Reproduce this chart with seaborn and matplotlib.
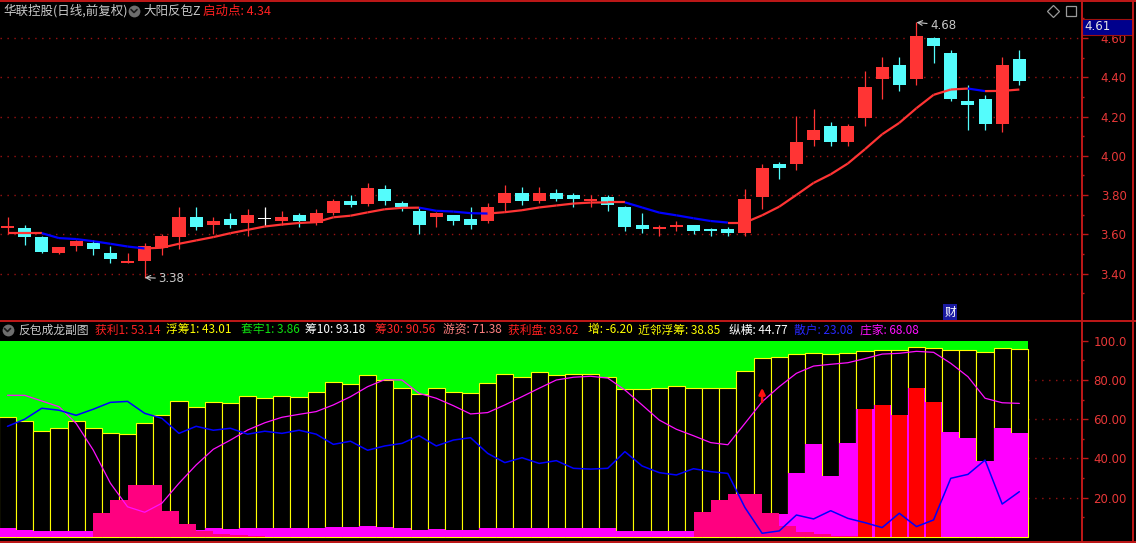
import numpy as np
import matplotlib
matplotlib.use('Agg')
import matplotlib.pyplot as plt
import seaborn as sns
from matplotlib.collections import LineCollection
from matplotlib.lines import Line2D
from matplotlib.patches import Rectangle

# ---------------- data ----------------
opens = [3.631, 3.630, 3.585, 3.503, 3.543, 3.554, 3.503, 3.452, 3.462, 3.528,
         3.584, 3.690, 3.650, 3.680, 3.660, 3.680, 3.670, 3.700, 3.660, 3.711,
         3.771, 3.753, 3.832, 3.761, 3.720, 3.689, 3.699, 3.679, 3.668, 3.761,
         3.812, 3.771, 3.812, 3.802, 3.771, 3.791, 3.740, 3.648, 3.627, 3.638,
         3.648, 3.627, 3.627, 3.607, 3.792, 3.959, 3.959, 4.081, 4.153, 4.071,
         4.194, 4.393, 4.464, 4.393, 4.602, 4.525, 4.280, 4.290, 4.163, 4.495]
highs = [3.690, 3.650, 3.590, 3.535, 3.569, 3.569, 3.543, 3.503, 3.554, 3.600,
         3.741, 3.741, 3.690, 3.711, 3.731, 3.741, 3.721, 3.711, 3.731, 3.781,
         3.802, 3.860, 3.853, 3.771, 3.740, 3.712, 3.700, 3.740, 3.761, 3.853,
         3.843, 3.843, 3.832, 3.812, 3.802, 3.800, 3.745, 3.709, 3.648, 3.668,
         3.650, 3.630, 3.638, 3.832, 3.959, 3.969, 4.204, 4.239, 4.173, 4.163,
         4.433, 4.505, 4.505, 4.680, 4.605, 4.540, 4.362, 4.311, 4.505, 4.540]
lows = [3.602, 3.545, 3.505, 3.500, 3.513, 3.493, 3.452, 3.452, 3.380, 3.493,
        3.523, 3.620, 3.604, 3.630, 3.594, 3.645, 3.650, 3.640, 3.650, 3.700,
        3.741, 3.745, 3.750, 3.720, 3.602, 3.638, 3.648, 3.627, 3.658, 3.720,
        3.750, 3.761, 3.771, 3.740, 3.740, 3.720, 3.617, 3.607, 3.591, 3.617,
        3.602, 3.591, 3.591, 3.591, 3.731, 3.884, 3.928, 4.051, 4.051, 4.051,
        4.153, 4.290, 4.331, 4.362, 4.474, 4.280, 4.132, 4.132, 4.122, 4.362]
closes = [3.641, 3.585, 3.511, 3.533, 3.564, 3.523, 3.473, 3.462, 3.543, 3.594,
          3.690, 3.640, 3.670, 3.650, 3.700, 3.680, 3.690, 3.670, 3.711, 3.771,
          3.751, 3.835, 3.771, 3.740, 3.648, 3.709, 3.668, 3.648, 3.740, 3.812,
          3.771, 3.812, 3.781, 3.781, 3.781, 3.750, 3.638, 3.627, 3.638, 3.648,
          3.617, 3.617, 3.607, 3.781, 3.938, 3.938, 4.071, 4.132, 4.071, 4.153,
          4.352, 4.454, 4.362, 4.612, 4.561, 4.290, 4.260, 4.163, 4.464, 4.382]
ma_line = [3.606, 3.606, 3.606, 3.581, 3.576, 3.565, 3.552, 3.538, 3.528, 3.532,
           3.552, 3.569, 3.586, 3.606, 3.623, 3.640, 3.650, 3.658, 3.662, 3.687,
           3.695, 3.712, 3.728, 3.735, 3.736, 3.720, 3.716, 3.708, 3.706, 3.713,
           3.723, 3.737, 3.747, 3.757, 3.762, 3.763, 3.763, 3.737, 3.711, 3.697,
           3.682, 3.668, 3.660, 3.660, 3.697, 3.741, 3.801, 3.862, 3.906, 3.961,
           4.034, 4.110, 4.168, 4.243, 4.311, 4.338, 4.343, 4.330, 4.331, 4.338]
price_ticks = [3.40, 3.60, 3.80, 4.00, 4.20, 4.40, 4.60]
low_label, high_label = 3.38, 4.68
low_idx, high_idx = 8, 53
last_price = "4.61"

chip_bars = [61.0, 58.9, 53.8, 55.4, 58.9, 55.4, 52.8, 52.4, 57.9, 62.0,
             69.1, 66.1, 68.6, 68.1, 71.7, 70.7, 71.7, 71.2, 73.7, 78.8,
             77.8, 82.4, 79.8, 76.1, 72.9, 76.1, 74.1, 73.2, 78.3, 83.2,
             81.4, 83.9, 82.4, 82.9, 82.9, 81.4, 75.2, 75.2, 75.8, 76.8,
             75.8, 75.8, 75.8, 84.4, 91.0, 91.6, 93.1, 93.6, 93.1, 93.6,
             94.6, 95.1, 95.1, 96.7, 96.2, 95.1, 95.1, 94.1, 96.2, 95.6]
zhuang_bars = [4.6, 3.6, 3.1, 3.1, 3.1, 3.1, 3.1, 3.1, 3.1, 3.1,
               3.1, 3.6, 4.6, 4.1, 4.6, 4.6, 4.6, 4.6, 4.6, 5.1,
               5.1, 5.6, 5.1, 4.6, 3.6, 4.1, 3.6, 3.6, 4.6, 4.6,
               4.6, 4.6, 4.6, 4.6, 4.6, 4.6, 3.1, 3.1, 3.1, 3.1,
               3.1, 3.1, 3.1, 3.1, 3.0, 11.5, 32.6, 47.4, 31.1, 47.9,
               65.2, 67.3, 62.2, 76.1, 68.9, 53.5, 50.4, 38.7, 55.5, 53.0]
youzi_steps = [0, 0, 0, 0, 0, 12.2, 18.9, 26.5, 26.5, 13.2,
               6.6, 3.1, 1.5, 1.0, 0.5, 0, 0, 0, 0, 0,
               0, 0, 0, 0, 0, 0, 0, 0, 0, 0,
               0, 0, 0, 0, 0, 0, 0, 0, 0, 0,
               12.7, 18.9, 21.9, 21.9, 12.2, 5.8, 2.7, 1.7, 0.5, 0.5,
               0, 0, 0, 0, 0, 0, 0, 0, 0, 0]
red_idx = [50, 51, 52, 53, 54]
red_bars = [65.2, 67.3, 62.2, 76.1, 68.9]
zhuang_line = [72.2, 72.2, 69.3, 66.4, 57.9, 44.3, 27.4, 15.4, 12.6, 17.2,
               27.4, 36.7, 44.7, 49.4, 54.5, 58.2, 61.0, 62.5, 63.9, 67.3,
               71.5, 76.6, 80.2, 80.0, 73.2, 70.7, 66.9, 62.7, 63.4, 67.3,
               71.5, 75.8, 80.0, 81.4, 81.9, 81.0, 74.9, 67.3, 59.6, 54.9,
               51.6, 48.1, 47.0, 57.9, 68.9, 76.6, 83.4, 87.1, 88.0, 88.8,
               90.9, 93.2, 93.6, 94.6, 94.1, 88.5, 81.7, 70.7, 68.4, 68.08]
sanhu_line = [56.4, 60.0, 65.6, 64.6, 62.0, 65.1, 68.6, 69.1, 63.0, 60.5,
              52.8, 56.4, 54.4, 55.4, 52.4, 53.9, 52.8, 54.4, 52.4, 47.2,
              48.8, 44.2, 46.4, 47.7, 51.6, 46.4, 49.4, 50.6, 42.6, 37.9,
              40.4, 37.5, 38.9, 35.0, 34.6, 35.0, 43.5, 36.2, 32.8, 31.6,
              34.8, 33.3, 32.4, 15.0, 1.9, 3.1, 11.2, 9.2, 13.4, 9.5,
              7.3, 4.8, 12.1, 5.3, 8.7, 29.9, 31.9, 39.2, 16.8, 23.08]
arrow_idx = 44
low_ticks = [20, 40, 60, 80, 100]
low_tick_labels = ['20.00', '40.00', '60.00', '80.00', '100.0']

sub_items = [("获利1", "53.14"), ("浮筹1", "43.01"), ("套牢1", "3.86"),
             ("筹10", "93.18"), ("筹30", "90.56"), ("游资", "71.38"),
             ("获利盘", "83.62"), ("增", "-6.20"), ("近邻浮筹", "38.85"),
             ("纵横", "44.77"), ("散户", f"{sanhu_line[-1]:.2f}"),
             ("庄家", f"{zhuang_line[-1]:.2f}")]
sub_colors = ['#FF2020', '#FFFF00', '#10E010', '#FFFFFF', '#FF2828', '#FF8080',
              '#FF2020', '#FFFF00', '#FFFF00', '#FFFFFF', '#2828FF', '#FF10FF']
sub_x = [95, 166, 241, 305, 375, 443, 508, 588, 638, 729, 794, 860]

# ---------------- style ----------------
W, H = 1136, 543
sns.set_theme(style='dark', rc={'axes.facecolor': 'black', 'figure.facecolor': 'black',
                                'axes.grid': False})
plt.rcParams['font.family'] = ['Noto Sans CJK SC', 'DejaVu Sans']
plt.rcParams['axes.unicode_minus'] = False

RED = '#FF3434'
CYAN = '#54FCFC'
AXRED = '#C01818'
LBLRED = '#E83838'
GRIDRED = '#9A1212'

fig = plt.figure(figsize=(W / 100, H / 100), dpi=100)
fig.patch.set_facecolor('black')


def fx(px):
    return px / W


def fy(py):
    return 1 - py / H


SP, X0, PR = 17.15, 7.5, 1081.5
xlim = (-X0 / SP, (PR - X0) / SP)
idx = np.arange(len(opens))
o, h, l, c = map(np.array, (opens, highs, lows, closes))

# ---------------- upper panel ----------------
ax1 = fig.add_axes([0, fy(320.5), fx(PR), (320.5 - 2) / H])
ax1.set_facecolor('black')
for p in price_ticks:
    ax1.axhline(p, color=GRIDRED, ls=(0, (1, 4)), lw=1.0, zorder=0)

col = np.where(c > o, RED, np.where(c < o, CYAN, '#FFFFFF'))
ax1.vlines(idx, l, h, colors=col, lw=0.9, zorder=2)
body = np.maximum(np.abs(c - o), 0.006)
bottom = np.where(np.abs(c - o) < 0.006, (o + c) / 2 - 0.003, np.minimum(o, c))
ax1.bar(idx, body, bottom=bottom, width=0.76, color=col, linewidth=0, zorder=3)

ma = np.array(ma_line)
segs = [[(i - 1, ma[i - 1]), (i, ma[i])] for i in range(1, len(ma))]
seg_cols = [RED if ma[i] >= ma[i - 1] else '#0000FF' for i in range(1, len(ma))]
ax1.add_collection(LineCollection(segs, colors=seg_cols, linewidths=1.6, zorder=4))

ax1.annotate(f"{low_label:.2f}", xy=(low_idx, low_label), xytext=(10, -1),
             textcoords='offset points', color='#C8C8C8', fontsize=8.5,
             family='DejaVu Sans', va='center', ha='left',
             arrowprops=dict(arrowstyle='->', color='#C8C8C8', lw=0.8,
                             shrinkA=0, shrinkB=0))
ax1.annotate(f"{high_label:.2f}", xy=(high_idx, high_label), xytext=(10, -2),
             textcoords='offset points', color='#C8C8C8', fontsize=8.5,
             family='DejaVu Sans', va='center', ha='left',
             arrowprops=dict(arrowstyle='->', color='#C8C8C8', lw=0.8,
                             shrinkA=0, shrinkB=0))

ax1.set_xlim(*xlim)
ax1.set_ylim(3.161, 4.784)
ax1.set_xticks([])
ax1.yaxis.tick_right()
ax1.set_yticks(price_ticks)
ax1.set_yticklabels([f"{p:.2f}" for p in price_ticks])
ax1.set_yticks([3.3, 3.5, 3.7, 3.9, 4.1, 4.3, 4.5, 4.7], minor=True)
ax1.tick_params(axis='y', which='major', direction='out', length=4, width=1,
                color=AXRED, labelcolor=LBLRED, labelsize=8.5, pad=28.5)
ax1.tick_params(axis='y', which='minor', direction='out', length=1.6, width=1,
                color=AXRED)
plt.setp(ax1.get_yticklabels(), ha='right', family='DejaVu Sans')
for s in ax1.spines.values():
    s.set_visible(False)

# ---------------- lower panel ----------------
ax2 = fig.add_axes([0, fy(541), fx(PR), (541 - 321) / H])
ax2.set_facecolor('black')
for v in low_ticks[:-1]:
    ax2.axhline(v, color=GRIDRED, ls=(0, (1, 4)), lw=1.0, zorder=0)
ax2.bar(idx, np.full(len(idx), 100.0), width=1.0, color='#00FF00', linewidth=0, zorder=1)
ax2.bar(idx, chip_bars, width=1.0, color='black', edgecolor='#FFFF00', linewidth=0.8, zorder=2)
ax2.bar(idx, zhuang_bars, width=1.0, color='#FF00FF', linewidth=0, zorder=3)
ax2.bar(idx, youzi_steps, width=1.0, align='edge', color='#FF0080', linewidth=0, zorder=4)
ax2.bar(red_idx, red_bars, width=0.86, color='#FF0000', linewidth=0, zorder=5)
sns.lineplot(x=idx, y=zhuang_line, color='#FF10FF', linewidth=0.9, ax=ax2, zorder=6)
sns.lineplot(x=idx, y=sanhu_line, color='#0000FF', linewidth=1.1, ax=ax2, zorder=6)
ax2.annotate('', xy=(arrow_idx, 76.0), xytext=(arrow_idx, 68.8),
             arrowprops=dict(arrowstyle='-|>', color='#FF1010', lw=1.8,
                             mutation_scale=9, shrinkA=0, shrinkB=0), zorder=7)
ax2.set_xlabel('')
ax2.set_ylabel('')
ax2.set_xlim(*xlim)
ax2.set_ylim(-2.04, 110.06)
ax2.set_xticks([])
ax2.yaxis.tick_right()
ax2.set_yticks(low_ticks)
ax2.set_yticklabels(low_tick_labels)
ax2.set_yticks([10, 30, 50, 70, 90], minor=True)
ax2.tick_params(axis='y', which='major', direction='out', length=4, width=1,
                color=AXRED, labelcolor=LBLRED, labelsize=8.5, pad=28.5)
ax2.tick_params(axis='y', which='minor', direction='out', length=1.6, width=1,
                color=AXRED)
plt.setp(ax2.get_yticklabels(), ha='right', family='DejaVu Sans')
for s in ax2.spines.values():
    s.set_visible(False)

# ---------------- frame lines ----------------
def hline(py, x0=0, x1=W, lw=1.4):
    fig.add_artist(Line2D([fx(x0), fx(x1)], [fy(py), fy(py)], color=AXRED, lw=lw,
                          transform=fig.transFigure))


def vline(px, y0=0, y1=H, lw=1.4):
    fig.add_artist(Line2D([fx(px), fx(px)], [fy(y0), fy(y1)], color=AXRED, lw=lw,
                          transform=fig.transFigure))


hline(1)
hline(320.5)
hline(541.5)
vline(PR)
vline(1132.5)

# ---------------- texts ----------------
def icon(px, py):
    fig.add_artist(Line2D([fx(px)], [fy(py)], marker='o', markersize=8.5, color='#6E6E6E',
                          markeredgewidth=0, transform=fig.transFigure))
    fig.add_artist(Line2D([fx(px - 3), fx(px), fx(px + 3)], [fy(py - 1.5), fy(py + 1.5), fy(py - 1.5)],
                          color='#1A1A1A', lw=1.2, transform=fig.transFigure))


fig.text(fx(3), fy(11), '华联控股(日线,前复权)', color='#C8C8C8', fontsize=9, va='center')
icon(134, 11)
fig.text(fx(143), fy(11), '大阳反包Z', color='#C8C8C8', fontsize=9, va='center')
fig.text(fx(203), fy(11), '启动点: 4.34', color='#FF2020', fontsize=9, va='center')

icon(7.5, 330)
fig.text(fx(18), fy(330), '反包成龙副图', color='#C8C8C8', fontsize=8.5, va='center')
for (name, val), colr, px in zip(sub_items, sub_colors, sub_x):
    fig.text(fx(px), fy(330), f"{name}: {val}", color=colr, fontsize=8.5, va='center')

# last price box
fig.add_artist(Rectangle((fx(1082), fy(35)), fx(51), 16 / H, facecolor='#00008C',
                         edgecolor='#A01010', lw=0.8, transform=fig.transFigure))
fig.text(fx(1084), fy(27), last_price, color='#E6E6E6', fontsize=8.5, va='center',
         family='DejaVu Sans')

# top-right icons
fig.add_artist(Line2D([fx(1053)], [fy(11)], marker='D', markersize=6, markerfacecolor='none',
                      markeredgecolor='#9A9A9A', markeredgewidth=0.9, transform=fig.transFigure))
fig.add_artist(Line2D([fx(1071)], [fy(11)], marker='s', markersize=7.5, markerfacecolor='none',
                      markeredgecolor='#9A9A9A', markeredgewidth=0.9, transform=fig.transFigure))

fig.text(fx(950), fy(312), '财', color='#FFFFFF', fontsize=8.5, ha='center', va='center',
         bbox=dict(boxstyle='square,pad=0.12', fc='#1A1AA0', ec='none'))

fig.savefig('out.png', dpi=100, facecolor='black')
